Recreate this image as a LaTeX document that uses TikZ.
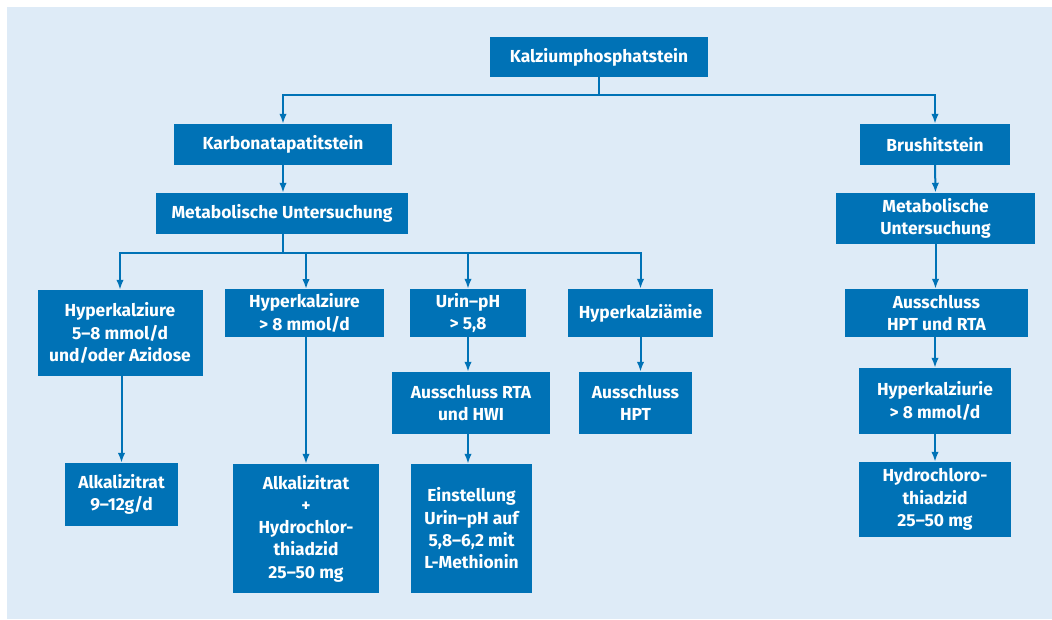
\documentclass[tikz,border=0pt]{standalone}
\usepackage{fontspec}
\setmainfont{Fira Sans}
\usetikzlibrary{arrows.meta}
\definecolor{boxblue}{RGB}{0,114,182}
\definecolor{panelblue}{RGB}{222,235,247}
\tikzset{
  box/.style={fill=boxblue, text=white, font=\bfseries\fontsize{17.4}{22.3}\selectfont,
    align=center, inner sep=0pt, anchor=center},
  conn/.style={draw=boxblue, line width=2pt},
  arr/.style={conn, -{Latex[length=10pt,width=7.5pt]}}
}
\begin{document}
\begin{tikzpicture}[x=1pt,y=-1pt]
\useasboundingbox (0,0) rectangle (1052,619);
\fill[white] (0,0) rectangle (1052,619);
\fill[panelblue] (7,7) rectangle (1052,619);

\node[box, minimum width=218pt, minimum height=40pt] (top) at (599,57) {Kalziumphosphatstein};
\node[box, minimum width=218pt, minimum height=41pt] (karb) at (283,144.5) {Karbonatapatitstein};
\node[box, minimum width=252pt, minimum height=41pt] (metaL) at (282,213.5) {Metabolische Untersuchung};
\node[box, minimum width=150pt, minimum height=41pt] (bru) at (935,144.5) {Brushitstein};
\node[box, minimum width=199pt, minimum height=51pt] (metaR) at (935.5,218.5) {Metabolische\\Untersuchung};

\node[box, minimum width=165pt, minimum height=86pt] (hk1) at (120,333) {Hyperkalziure\\5--8 mmol/d\\und/oder Azidose};
\node[box, minimum width=159pt, minimum height=48pt] (hk2) at (304.5,313) {Hyperkalziure\\> 8 mmol/d};
\node[box, minimum width=116pt, minimum height=48pt] (urin) at (468,313) {Urin--pH\\> 5,8};
\node[box, minimum width=145pt, minimum height=48pt] (hkae) at (640.5,313) {Hyperkalziämie};
\node[box, minimum width=183pt, minimum height=48pt] (ahr) at (936.5,313) {Ausschluss\\HPT und RTA};

\node[box, minimum width=158pt, minimum height=62pt] (arh) at (471,403) {Ausschluss RTA\\und HWI};
\node[box, minimum width=113pt, minimum height=62pt] (ahpt) at (635.5,403) {Ausschluss\\HPT};
\node[box, minimum width=152pt, minimum height=66pt] (hkurie) at (935,401) {Hyperkalziurie\\> 8 mmol/d};

\node[box, minimum width=113pt, minimum height=63pt] (alk1) at (121.5,494.5) {Alkalizitrat\\9--12g/d};
\node[box, minimum width=146pt, minimum height=129pt] (alk2) at (306,528.5) {Alkalizitrat\\+\\Hydrochlor-\\thiadzid\\25--50 mg};
\node[box, minimum width=121pt, minimum height=129pt] (einst) at (471.5,528.5) {Einstellung\\Urin--pH auf\\5,8--6,2 mit\\L-Methionin};
\node[box, minimum width=152pt, minimum height=75pt] (hydro) at (935,499.5) {Hydrochloro-\\thiadzid\\25--50 mg};

% top tree
\coordinate (j1) at (599,95);
\draw[conn] (top.south) -- (j1);
\draw[arr] (j1) -| (karb.north);
\draw[arr] (j1) -| (bru.north);
\draw[arr] (karb.south) -- (karb.south |- metaL.north);
\draw[arr] (bru.south) -- (metaR.north);

% left branch
\coordinate (j2) at (283,253);
\draw[conn] (metaL.south -| j2) -- (j2);
\draw[arr] (j2) -| (hk1.north);
\draw[arr] (j2) -| (306,289) coordinate (hk2top);
\draw[arr] (j2) -| (urin.north);
\draw[arr] (j2) -| (hkae.north);

% vertical chains
\draw[arr] (hk1.south -| alk1.north) -- (alk1.north);
\draw[arr] (hk2.south -| alk2.north) -- (alk2.north);
\draw[arr] (urin.south) -- (urin.south |- arh.north);
\draw[arr] (arh.south -| urin.south) -- (urin.south |- einst.north);
\draw[arr] (hkae.south) -- (hkae.south |- ahpt.north);

% right branch
\draw[arr] (metaR.south) -- (metaR.south |- ahr.north);
\draw[arr] (ahr.south -| hkurie.north) -- (hkurie.north);
\draw[arr] (hkurie.south) -- (hydro.north);
\end{tikzpicture}
\end{document}
